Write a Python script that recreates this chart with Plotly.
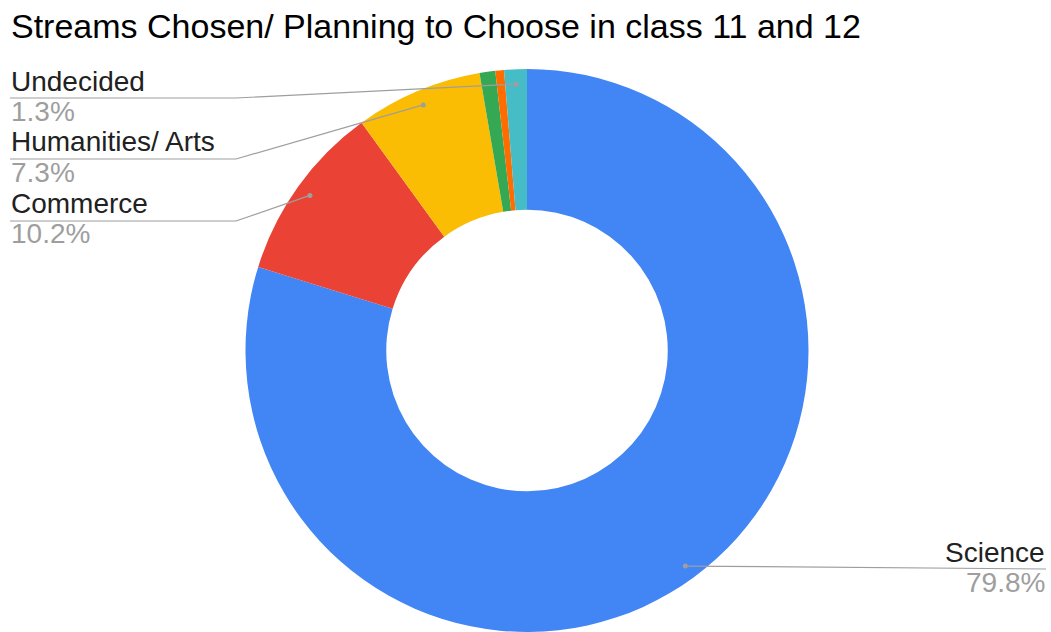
import math
import plotly.graph_objects as go

# Stream shares (%), listed clockwise from 12 o'clock
streams = ["Science", "Commerce", "Humanities/ Arts", "Vocational", "Other", "Undecided"]
shares = [79.8, 10.2, 7.3, 0.9, 0.5, 1.3]
colors = ["#4285F4", "#EA4335", "#FBBC04", "#34A853", "#FF6D01", "#46BDC6"]
pct_labels = ["79.8%", "10.2%", "7.3%", "", "", "1.3%"]

W, H = 1051, 632
CX, CY, R = 527, 351, 282          # donut centre / radius in px
DOT_R = 0.947 * R                  # leader-line anchor radius

def px(x):
    return x / W

def py(y):
    return 1 - y / H

fig = go.Figure(go.Pie(
    labels=streams,
    values=shares,
    marker=dict(colors=colors, line=dict(width=0)),
    hole=0.5,
    sort=False,
    direction="clockwise",
    rotation=0,
    textinfo="none",
    showlegend=False,
    domain=dict(x=[px(CX - R), px(CX + R)], y=[max(0, py(CY + R)), py(CY - R)]),
))

# anchor point on each slice (mid-angle)
total = sum(shares)
anchors = {}
cum = 0.0
for name, v in zip(streams, shares):
    theta = 2 * math.pi * (cum + v / 2) / total
    anchors[name] = (CX + DOT_R * math.sin(theta), CY - DOT_R * math.cos(theta))
    cum += v

# label placement: (name, line y, side)
callouts = [
    ("Undecided", 98, "left"),
    ("Humanities/ Arts", 159, "left"),
    ("Commerce", 221, "left"),
    ("Science", 569, "right"),
]

NAME_COLOR = "#212121"
PCT_COLOR = "#9E9E9E"
LINE_COLOR = "#9E9E9E"
FONT = "Liberation Sans, Arial, sans-serif"
FS = 28

shapes = []
annotations = []
for name, ly, side in callouts:
    ax, ay = anchors[name]
    pct = pct_labels[streams.index(name)]
    if side == "left":
        x0, x1, elbow = 10, 236, 236
        shapes.append(dict(type="line", xref="paper", yref="paper",
                           x0=px(x0), y0=py(ly), x1=px(x1), y1=py(ly),
                           line=dict(color=LINE_COLOR, width=1.2)))
        shapes.append(dict(type="line", xref="paper", yref="paper",
                           x0=px(elbow), y0=py(ly), x1=px(ax), y1=py(ay),
                           line=dict(color=LINE_COLOR, width=1.2)))
        tx, anchor = px(10), "left"
    else:
        shapes.append(dict(type="line", xref="paper", yref="paper",
                           x0=px(ax), y0=py(ay), x1=px(1046), y1=py(ly),
                           line=dict(color=LINE_COLOR, width=1.2)))
        tx, anchor = px(1046), "right"
    shapes.append(dict(type="circle", xref="paper", yref="paper",
                       x0=px(ax - 2.5), x1=px(ax + 2.5),
                       y0=py(ay - 2.5), y1=py(ay + 2.5),
                       fillcolor=LINE_COLOR, line=dict(width=0)))
    annotations.append(dict(text=name, x=tx, y=py(ly - 17), xref="paper", yref="paper",
                            xanchor=anchor, yanchor="middle", showarrow=False,
                            borderpad=0, font=dict(family=FONT, size=FS, color=NAME_COLOR)))
    annotations.append(dict(text=pct, x=tx, y=py(ly + 13), xref="paper", yref="paper",
                            xanchor=anchor, yanchor="middle", showarrow=False,
                            borderpad=0, font=dict(family=FONT, size=FS, color=PCT_COLOR)))

annotations.append(dict(text="Streams Chosen/ Planning to Choose in class 11 and 12",
                        x=px(10), y=py(26), xref="paper", yref="paper",
                        xanchor="left", yanchor="middle", showarrow=False, borderpad=0,
                        font=dict(family=FONT, size=34, color="#000000")))

fig.update_layout(
    width=W, height=H,
    margin=dict(l=0, r=0, t=0, b=0),
    paper_bgcolor="white",
    plot_bgcolor="white",
    shapes=shapes,
    annotations=annotations,
)

fig.write_html("out.html")
